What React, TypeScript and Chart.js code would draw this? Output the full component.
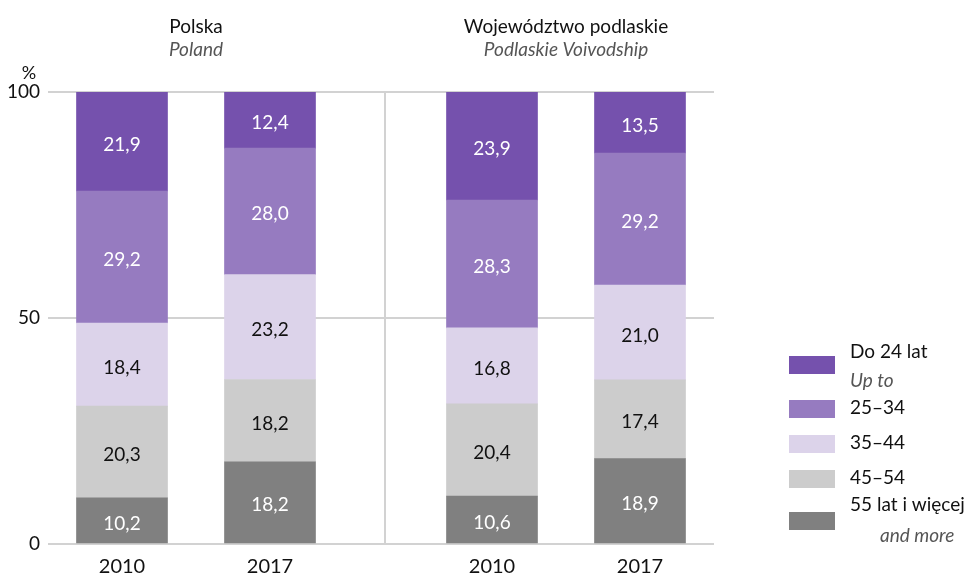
import React, { useEffect, useRef } from "react";
import { Chart, registerables } from "chart.js";

Chart.register(...registerables);

// ---- data ----
const yearLabels = ["2010", "2017", "2010", "2017"];
const xPositions = [0, 1, 2.5, 3.5];
const groupTitles = ["Polska", "Województwo podlaskie"];
const groupSubtitles = ["Poland", "Podlaskie Voivodship"];

const seriesNames = ["Do 24 lat", "25–34", "35–44", "45–54", "55 lat i więcej"];
const seriesSubNames = ["Up to", "", "", "", "and more"];
const upTo24 = [21.9, 12.4, 23.9, 13.5];
const age25_34 = [29.2, 28.0, 28.3, 29.2];
const age35_44 = [18.4, 23.2, 16.8, 21.0];
const age45_54 = [20.3, 18.2, 20.4, 17.4];
const age55plus = [10.2, 18.2, 10.6, 18.9];
const seriesValues = [upTo24, age25_34, age35_44, age45_54, age55plus];
const seriesColors = ["#7551ad", "#967bc0", "#dcd3ea", "#cccccc", "#808080"];
const labelColors = ["#ffffff", "#ffffff", "#111111", "#111111", "#ffffff"];
const yTicks = [0, 50, 100];

const FONT = "Lato, 'Open Sans', sans-serif";
const GRID = "#d2d2d2";

const overlayPlugin = {
  id: "overlay",
  beforeDatasetsDraw(chart: any) {
    const ctx = chart.ctx;
    const x = chart.scales.x;
    const y = chart.scales.y;
    const dx = x.getPixelForValue(1.78);
    ctx.save();
    ctx.strokeStyle = GRID;
    ctx.lineWidth = 2;
    ctx.beginPath();
    ctx.moveTo(Math.round(dx), y.getPixelForValue(100));
    ctx.lineTo(Math.round(dx), y.getPixelForValue(0));
    ctx.stroke();
    ctx.restore();
  },
  afterDatasetsDraw(chart: any) {
    const ctx = chart.ctx;
    const x = chart.scales.x;
    ctx.save();
    // data labels
    ctx.textAlign = "center";
    ctx.textBaseline = "middle";
    ctx.font = `19px ${FONT}`;
    chart.data.datasets.forEach((ds: any, di: number) => {
      const meta = chart.getDatasetMeta(di);
      meta.data.forEach((bar: any, i: number) => {
        const v = ds.data[i].y;
        const cy = (bar.y + bar.base) / 2 + 3;
        ctx.fillStyle = ds.labelColor;
        ctx.fillText(v.toFixed(1).replace(".", ","), bar.x, cy);
      });
    });
    // group titles
    for (let g = 0; g < 2; g++) {
      const cx = (x.getPixelForValue(xPositions[g * 2]) + x.getPixelForValue(xPositions[g * 2 + 1])) / 2;
      ctx.fillStyle = "#111111";
      ctx.font = `19px ${FONT}`;
      ctx.fillText(groupTitles[g], cx, 27);
      ctx.fillStyle = "#555555";
      ctx.font = `italic 19px ${FONT}`;
      ctx.fillText(groupSubtitles[g], cx, 50);
    }
    // percent sign
    ctx.fillStyle = "#111111";
    ctx.font = `18px ${FONT}`;
    ctx.fillText("%", 29, 73);
    // legend
    const swTops = [356, 400, 435, 470, 512];
    const textY = [352, 408, 443, 478, 505];
    const subY = [381, 0, 0, 0, 536];
    const subX = [850, 0, 0, 0, 880];
    ctx.textAlign = "left";
    for (let i = 0; i < seriesNames.length; i++) {
      ctx.fillStyle = seriesColors[i];
      ctx.fillRect(789, swTops[i], 46, 18);
      ctx.fillStyle = "#111111";
      ctx.font = `19px ${FONT}`;
      ctx.fillText(seriesNames[i], 850, textY[i]);
      if (seriesSubNames[i]) {
        ctx.fillStyle = "#555555";
        ctx.font = `italic 19px ${FONT}`;
        ctx.fillText(seriesSubNames[i], subX[i], subY[i]);
      }
    }
    ctx.restore();
  },
};

export default function App() {
  const ref = useRef<HTMLCanvasElement | null>(null);
  useEffect(() => {
    if (!ref.current) return;
    const order = [4, 3, 2, 1, 0];
    const chart = new Chart(ref.current, {
      type: "bar",
      data: {
        datasets: order.map((s) => ({
          label: seriesNames[s],
          data: seriesValues[s].map((v, i) => ({ x: xPositions[i], y: v })),
          backgroundColor: seriesColors[s],
          labelColor: labelColors[s],
          barThickness: 91,
          borderWidth: 0,
        })) as any,
      },
      options: {
        animation: false,
        responsive: false,
        maintainAspectRatio: false,
        layout: { padding: { top: 92, right: 259, left: 0, bottom: 0 } },
        plugins: { legend: { display: false }, tooltip: { enabled: false }, title: { display: false } },
        scales: {
          x: {
            type: "linear",
            stacked: true,
            offset: false,
            min: -0.5,
            max: 4,
            afterBuildTicks: (scale: any) => {
              scale.ticks = xPositions.map((v) => ({ value: v }));
            },
            afterFit: (scale: any) => {
              scale.height = 31;
            },
            ticks: {
              autoSkip: false,
              maxRotation: 0,
              padding: 11,
              color: "#111111",
              font: { family: FONT, size: 20 },
              callback: (_v: any, i: number) => yearLabels[i],
            },
            grid: { display: false, drawTicks: false },
            border: { display: false },
          },
          y: {
            stacked: true,
            min: 0,
            max: 100,
            afterBuildTicks: (scale: any) => {
              scale.ticks = yTicks.map((v) => ({ value: v }));
            },
            afterFit: (scale: any) => {
              scale.width = 48;
            },
            ticks: {
              padding: 8,
              color: "#111111",
              font: { family: FONT, size: 19 },
            },
            grid: { color: GRID, lineWidth: 2, drawTicks: false },
            border: { display: false },
          },
        },
      } as any,
      plugins: [overlayPlugin],
    });
    return () => chart.destroy();
  }, []);
  return (
    <div style={{ position: "fixed", left: 0, top: 0, width: 973, height: 575, background: "#fff" }}>
      <canvas ref={ref} width={973} height={575} style={{ width: 973, height: 575 }} />
    </div>
  );
}
